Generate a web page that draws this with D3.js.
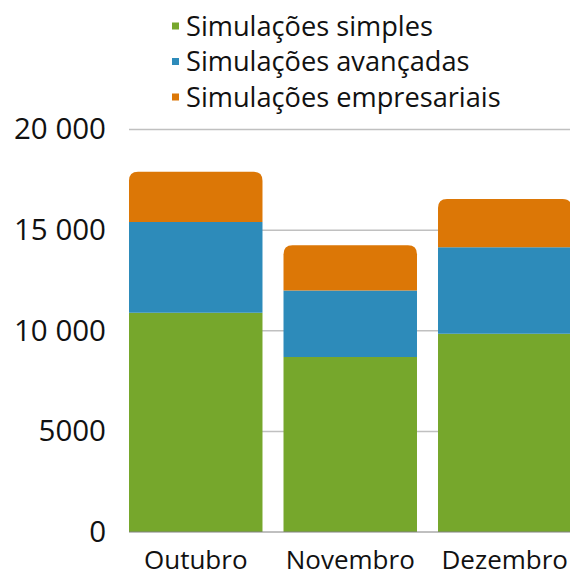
<!DOCTYPE html>
<html>
<head>
<meta charset="utf-8">
<script src="https://cdn.jsdelivr.net/npm/d3@7"></script>
<style>
  body { margin: 0; background: #fff; }
  svg { display: block; }
</style>
</head>
<body>
<svg id="chart" width="570" height="576"></svg>
<script>
// data
const months = ['Outubro', 'Novembro', 'Dezembro'];
const seriesNames = ['Simulações simples', 'Simulações avançadas', 'Simulações empresariais'];
const simples = [10900, 8700, 9850];
const avancadas = [4500, 3300, 4300];
const empresariais = [2500, 2250, 2400];
const yTicks = [0, 5000, 10000, 15000, 20000];
const colors = ['#76a72c', '#2d8bba', '#dc7706'];

const svg = d3.select('#chart');
const width = 570;
const height = 576;
const margin = { top: 129.5, right: -1.5, bottom: 44, left: 129 };

const rows = months.map((m, i) => ({
  month: m,
  s0: simples[i],
  s1: avancadas[i],
  s2: empresariais[i]
}));

const stack = d3.stack().keys(['s0', 's1', 's2']);
const layers = stack(rows);

const x = d3.scaleBand()
  .domain(months)
  .range([margin.left, width - margin.right])
  .paddingInner(0.136)
  .paddingOuter(0);

const y = d3.scaleLinear()
  .domain([0, 20000])
  .range([height - margin.bottom, margin.top]);

const font = '"Open Sans", "Noto Sans", sans-serif';

// gridlines
svg.append('g')
  .selectAll('line')
  .data(yTicks.filter(d => d > 0))
  .join('line')
  .attr('x1', margin.left)
  .attr('x2', width)
  .attr('y1', d => y(d))
  .attr('y2', d => y(d))
  .attr('stroke', '#c0c0c0')
  .attr('stroke-width', 1.5);

// y axis labels
const yAxis = d3.axisLeft(y)
  .tickValues(yTicks)
  .tickSize(0)
  .tickPadding(23)
  .tickFormat(d => d >= 10000 ? d3.format(',')(d).replace(',', ' ') : String(d));

svg.append('g')
  .attr('transform', `translate(${margin.left},0)`)
  .call(yAxis)
  .call(g => g.select('.domain').remove())
  .selectAll('text')
  .attr('font-family', font)
  .attr('font-size', 29.5)
  .attr('fill', '#111');

// bars
const radius = 9;
function topRounded(x0, y0, w, h, r) {
  r = Math.min(r, h, w / 2);
  return `M${x0},${y0 + h}V${y0 + r}Q${x0},${y0} ${x0 + r},${y0}` +
    `H${x0 + w - r}Q${x0 + w},${y0} ${x0 + w},${y0 + r}V${y0 + h}Z`;
}

layers.forEach((layer, li) => {
  const g = svg.append('g').attr('fill', colors[li]);
  const last = li === layers.length - 1;
  g.selectAll('path')
    .data(layer)
    .join('path')
    .attr('d', d => {
      const x0 = x(d.data.month);
      const y0 = y(d[1]);
      const h = y(d[0]) - y(d[1]);
      if (last) return topRounded(x0, y0, x.bandwidth(), h, radius);
      return `M${x0},${y0}h${x.bandwidth()}v${h}h${-x.bandwidth()}Z`;
    });
});

// baseline
svg.append('line')
  .attr('x1', margin.left)
  .attr('x2', width)
  .attr('y1', y(0))
  .attr('y2', y(0))
  .attr('stroke', '#808080')
  .attr('stroke-width', 1);

// x axis labels
const xAxis = d3.axisBottom(x).tickSize(0).tickPadding(19);
svg.append('g')
  .attr('transform', `translate(0,${y(0)})`)
  .call(xAxis)
  .call(g => g.select('.domain').remove())
  .selectAll('text')
  .attr('font-family', font)
  .attr('font-size', 26)
  .attr('fill', '#111');

// legend
const legend = svg.append('g').attr('transform', 'translate(172,26)');
const item = legend.selectAll('g')
  .data(seriesNames)
  .join('g')
  .attr('transform', (d, i) => `translate(0,${i * 35.5})`);

item.append('rect')
  .attr('x', 0)
  .attr('y', -3.5)
  .attr('width', 7)
  .attr('height', 7)
  .attr('fill', (d, i) => colors[i]);

item.append('text')
  .attr('x', 14)
  .attr('y', 0)
  .attr('dy', '0.35em')
  .attr('font-family', font)
  .attr('font-size', 27.2)
  .attr('fill', '#111')
  .text(d => d);
</script>
</body>
</html>
